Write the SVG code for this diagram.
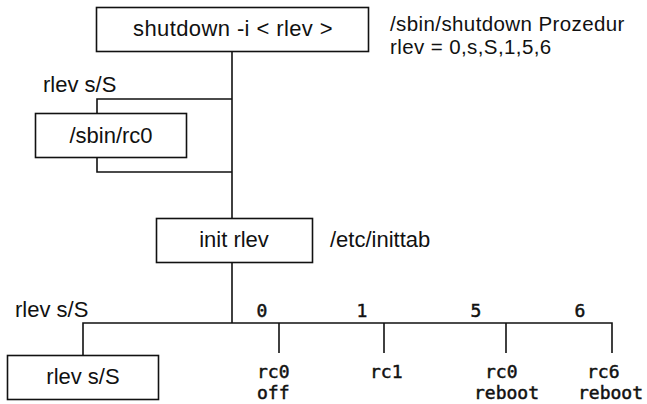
<svg xmlns="http://www.w3.org/2000/svg" width="647" height="404" viewBox="0 0 647 404">
  <style>
    .box { fill: #ffffff; stroke: #111111; stroke-width: 1.6; }
    .wire { fill: none; stroke: #111111; stroke-width: 1.6; }
    .sans { font-family: "Liberation Sans", Arial, sans-serif; font-size: 22px; fill: #111111; }
    .note { font-size: 20.5px; letter-spacing: 0.4px; }
    .mono { font-family: "DejaVu Sans Mono", "Liberation Mono", monospace; font-size: 18px; fill: #111111; stroke: #111111; stroke-width: 0.5; }
    .mid { text-anchor: middle; }
  </style>
  <rect width="647" height="404" fill="#ffffff"/>

  <!-- connectors -->
  <g id="connectors">
    <path class="wire" d="M232,52 V218"/>
    <path class="wire" d="M232,99 H97 V113"/>
    <path class="wire" d="M97,158 V172 H232"/>
    <path class="wire" d="M232,263 V323"/>
    <path class="wire" d="M83,355 V323 H612 V353"/>
    <path class="wire" d="M279,323 V353"/>
    <path class="wire" d="M384,323 V353"/>
    <path class="wire" d="M506,323 V353"/>
  </g>

  <g id="shutdown">
    <rect class="box" x="96.5" y="7.5" width="272" height="44"/>
    <text class="sans mid" x="233" y="36" letter-spacing="0.4">shutdown -i &lt; rlev &gt;</text>
  </g>
  <g id="shutdown-note">
    <text class="sans note" x="390" y="31">/sbin/shutdown Prozedur</text>
    <text class="sans note" x="390" y="54">rlev = 0,s,S,1,5,6</text>
  </g>

  <g id="rc0-script">
    <text class="sans" x="43" y="92">rlev s/S</text>
    <rect class="box" x="35.5" y="113.5" width="151" height="44"/>
    <text class="sans mid" x="111" y="143">/sbin/rc0</text>
  </g>

  <g id="init">
    <rect class="box" x="156.5" y="218.5" width="156" height="44"/>
    <text class="sans mid" x="234" y="247">init rlev</text>
    <text class="sans" x="330" y="247">/etc/inittab</text>
  </g>

  <g id="single-user">
    <text class="sans" x="15" y="317">rlev s/S</text>
    <rect class="box" x="7.5" y="355.5" width="151" height="44"/>
    <text class="sans mid" x="83" y="384">rlev s/S</text>
  </g>

  <g id="level-0">
    <text class="mono mid" x="262" y="317">0</text>
    <text class="mono" x="257" y="378">rc0</text>
    <text class="mono" x="257" y="399">off</text>
  </g>
  <g id="level-1">
    <text class="mono mid" x="362" y="317">1</text>
    <text class="mono" x="370" y="378">rc1</text>
  </g>
  <g id="level-5">
    <text class="mono mid" x="476" y="317">5</text>
    <text class="mono" x="485" y="378">rc0</text>
    <text class="mono" x="474" y="399">reboot</text>
  </g>
  <g id="level-6">
    <text class="mono mid" x="580" y="317">6</text>
    <text class="mono" x="587" y="378">rc6</text>
    <text class="mono" x="578" y="399">reboot</text>
  </g>
</svg>
